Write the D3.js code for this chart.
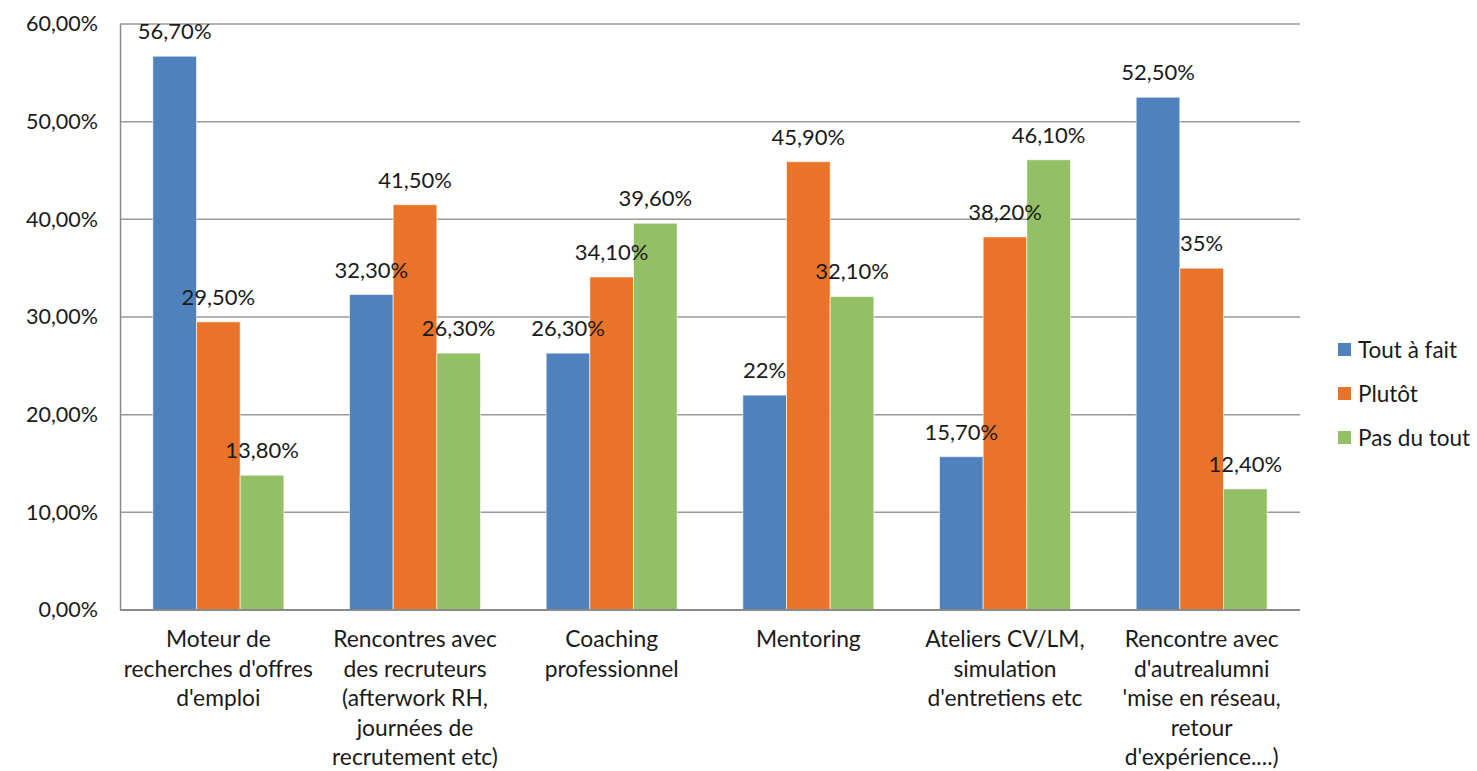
<!DOCTYPE html>
<html lang="fr">
<head>
<meta charset="UTF-8">
<title>Services</title>
<script src="https://d3js.org/d3.v7.min.js"></script>
<style>
  body { margin: 0; background: #fff; }
  svg text { font-family: Lato, "Open Sans", sans-serif; fill: #1a1a1a; }
</style>
</head>
<body>
<svg id="chart" width="1477" height="771"></svg>
<script>
const categories = [
  ["Moteur de", "recherches d'offres", "d'emploi"],
  ["Rencontres avec", "des recruteurs", "(afterwork RH,", "journées de", "recrutement etc)"],
  ["Coaching", "professionnel"],
  ["Mentoring"],
  ["Ateliers CV/LM,", "simulation", "d'entretiens etc"],
  ["Rencontre avec", "d'autrealumni", "'mise en réseau,", "retour", "d'expérience....)"]
];
const series = ["Tout à fait", "Plutôt", "Pas du tout"];
const colors = ["#4f81bd", "#e97328", "#93bf65"];
const toutAFait = [56.7, 32.3, 26.3, 22, 15.7, 52.5];
const plutot = [29.5, 41.5, 34.1, 45.9, 38.2, 35];
const pasDuTout = [13.8, 26.3, 39.6, 32.1, 46.1, 12.4];
const labelsTout = ["56,70%", "32,30%", "26,30%", "22%", "15,70%", "52,50%"];
const labelsPlutot = ["29,50%", "41,50%", "34,10%", "45,90%", "38,20%", "35%"];
const labelsPas = ["13,80%", "26,30%", "39,60%", "32,10%", "46,10%", "12,40%"];
const yTicks = [0, 10, 20, 30, 40, 50, 60];

const values = [toutAFait, plutot, pasDuTout];
const labels = [labelsTout, labelsPlutot, labelsPas];

const svg = d3.select("#chart");
const mLeft = 120, mRight = 1300, mTop = 24, mBottom = 610;

const x0 = d3.scaleBand().domain(d3.range(categories.length))
  .range([mLeft, mRight]).paddingInner(0.334).paddingOuter(0.167);
const x1 = d3.scaleBand().domain(d3.range(series.length))
  .range([0, x0.bandwidth()]);
const y = d3.scaleLinear().domain([0, 60]).range([mBottom, mTop]);

// gridlines
svg.append("g").selectAll("line")
  .data(yTicks.filter(t => t > 0))
  .join("line")
  .attr("x1", mLeft).attr("x2", mRight)
  .attr("y1", d => y(d)).attr("y2", d => y(d))
  .attr("stroke", "#9a9a9a").attr("stroke-width", 1.5);

// y axis
const yAxis = svg.append("g").attr("transform", `translate(${mLeft},0)`)
  .call(d3.axisLeft(y).tickValues(yTicks).tickSize(0).tickPadding(22)
    .tickFormat(d => d3.format(".2f")(d).replace(".", ",") + "%"));
yAxis.select(".domain").attr("stroke", "#8a8a8a").attr("stroke-width", 1.5);
yAxis.selectAll("text").style("font-size", "21.5px").attr("fill", "#1a1a1a")
  .style("font-family", "Lato, sans-serif");

// bars
const groups = svg.append("g").selectAll("g")
  .data(categories)
  .join("g")
  .attr("transform", (d, i) => `translate(${x0(i)},0)`);

groups.selectAll("rect")
  .data((d, i) => series.map((s, j) => ({ j, v: values[j][i], label: labels[j][i] })))
  .join("rect")
  .attr("x", d => x1(d.j))
  .attr("width", x1.bandwidth())
  .attr("y", d => y(d.v))
  .attr("height", d => y(0) - y(d.v))
  .attr("fill", d => colors[d.j])
  .attr("stroke", "rgba(255,255,255,0.6)").attr("stroke-width", 1);

groups.selectAll("text.val")
  .data((d, i) => series.map((s, j) => ({ j, v: values[j][i], label: labels[j][i] })))
  .join("text")
  .attr("class", "val")
  .attr("x", d => x1(d.j) + x1.bandwidth() / 2)
  .attr("y", d => y(d.v) - 17)
  .attr("text-anchor", "middle")
  .style("font-size", "22px")
  .text(d => d.label);

// x axis line
svg.append("line")
  .attr("x1", mLeft).attr("x2", mRight)
  .attr("y1", mBottom).attr("y2", mBottom)
  .attr("stroke", "#8a8a8a").attr("stroke-width", 2);

// category labels
svg.append("g").selectAll("text")
  .data(categories)
  .join("text")
  .attr("text-anchor", "middle")
  .style("font-size", "22.8px")
  .each(function (lines, i) {
    d3.select(this).selectAll("tspan")
      .data(lines)
      .join("tspan")
      .attr("x", x0(i) + x0.bandwidth() / 2)
      .attr("y", (l, k) => 647 + k * 29.5)
      .text(l => l);
  });

// legend
const legend = svg.append("g").selectAll("g")
  .data(series)
  .join("g")
  .attr("transform", (d, i) => `translate(1338,${350 + i * 44})`);
legend.append("rect")
  .attr("x", 0).attr("y", -7).attr("width", 13).attr("height", 13)
  .attr("fill", (d, i) => colors[i]);
legend.append("text")
  .attr("x", 20).attr("y", 7.5)
  .style("font-size", "22.5px")
  .text(d => d);
</script>
</body>
</html>
